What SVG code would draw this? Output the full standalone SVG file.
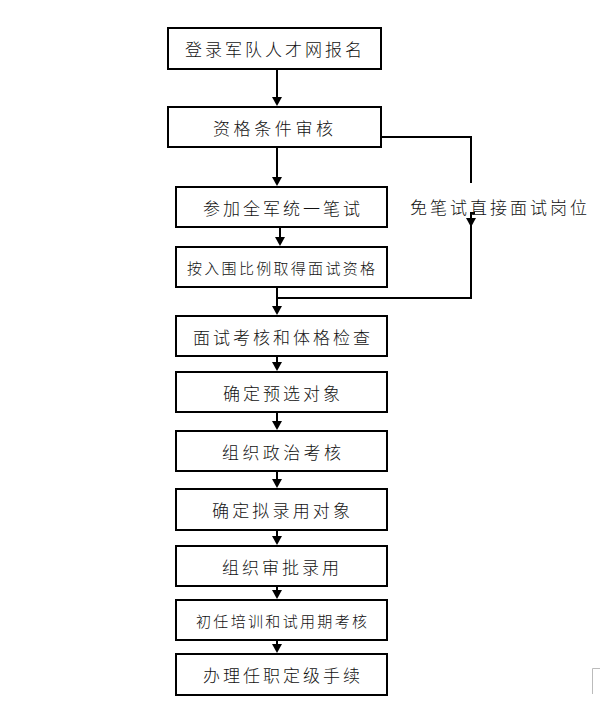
<svg xmlns="http://www.w3.org/2000/svg" width="600" height="706" viewBox="0 0 600 706">
<style>
.box{fill:#fff;stroke:#000;stroke-width:2}
.t{font-family:"Noto Sans CJK SC","Noto Sans",sans-serif;font-size:17px;font-weight:300;fill:#111;dominant-baseline:central}
.s{font-size:15px}
.ln{fill:none;stroke:#000;stroke-width:2}
</style>
<rect width="600" height="706" fill="#fff"/>
<g id="connectors">
<line class="ln" x1="277" y1="70" x2="277" y2="100"/>
<path d="M272,97 L282,97 L277,106 Z"/>
<line class="ln" x1="277" y1="148" x2="277" y2="180"/>
<path d="M272,177 L282,177 L277,186 Z"/>
<line class="ln" x1="280" y1="228" x2="280" y2="240"/>
<path d="M275,237 L285,237 L280,246 Z"/>
<polyline class="ln" points="277,288 277,298 471,298 471,213 475,213"/>
<line class="ln" x1="277" y1="298" x2="277" y2="309"/>
<path d="M272,306 L282,306 L277,315 Z"/>
<path d="M466,218 L476,218 L471,227 Z"/>
<polyline class="ln" points="382,137 471,137 471,183"/>
<line class="ln" x1="277" y1="357" x2="277" y2="365"/>
<path d="M272,362 L282,362 L277,371 Z"/>
<line class="ln" x1="277" y1="413" x2="277" y2="424"/>
<path d="M272,421 L282,421 L277,430 Z"/>
<line class="ln" x1="277" y1="472" x2="277" y2="482"/>
<path d="M272,479 L282,479 L277,488 Z"/>
<line class="ln" x1="277" y1="531" x2="277" y2="539"/>
<path d="M272,536 L282,536 L277,545 Z"/>
<line class="ln" x1="277" y1="587" x2="277" y2="593"/>
<path d="M272,590 L282,590 L277,599 Z"/>
<line class="ln" x1="277" y1="641" x2="277" y2="647"/>
<path d="M272,644 L282,644 L277,653 Z"/>
</g>
<g id="n1"><rect class="box" x="168" y="28" width="213" height="41"/><text class="t" x="185" y="48.5" textLength="177" lengthAdjust="spacing">登录军队人才网报名</text></g>
<g id="n2"><rect class="box" x="168" y="107" width="213" height="40"/><text class="t" x="213" y="127" textLength="120" lengthAdjust="spacing">资格条件审核</text></g>
<g id="n3"><rect class="box" x="176" y="187" width="211" height="40"/><text class="t" x="203" y="207" textLength="157" lengthAdjust="spacing">参加全军统一笔试</text></g>
<g id="n4"><rect class="box" x="176" y="247" width="211" height="40"/><text class="t s" x="187" y="267" textLength="188" lengthAdjust="spacing">按入围比例取得面试资格</text></g>
<g id="side"><text class="t" x="410" y="206" textLength="177" lengthAdjust="spacing">免笔试直接面试岗位</text></g>
<g id="n5"><rect class="box" x="176" y="316" width="211" height="40"/><text class="t" x="193" y="336" textLength="177" lengthAdjust="spacing">面试考核和体格检查</text></g>
<g id="n6"><rect class="box" x="176" y="372" width="211" height="40"/><text class="t" x="223" y="392" textLength="117" lengthAdjust="spacing">确定预选对象</text></g>
<g id="n7"><rect class="box" x="176" y="431" width="211" height="40"/><text class="t" x="222" y="451" textLength="119" lengthAdjust="spacing">组织政治考核</text></g>
<g id="n8"><rect class="box" x="176" y="489" width="211" height="41"/><text class="t" x="212" y="509.5" textLength="138" lengthAdjust="spacing">确定拟录用对象</text></g>
<g id="n9"><rect class="box" x="176" y="546" width="211" height="40"/><text class="t" x="222" y="566" textLength="117" lengthAdjust="spacing">组织审批录用</text></g>
<g id="n10"><rect class="box" x="176" y="600" width="211" height="40"/><text class="t s" x="196" y="620" textLength="171" lengthAdjust="spacing">初任培训和试用期考核</text></g>
<g id="n11"><rect class="box" x="176" y="654" width="211" height="41"/><text class="t" x="203" y="674.5" textLength="157" lengthAdjust="spacing">办理任职定级手续</text></g>
<polyline points="592.5,694 592.5,668.5 600,668.5" fill="none" stroke="#bbb" stroke-width="1"/>
</svg>
